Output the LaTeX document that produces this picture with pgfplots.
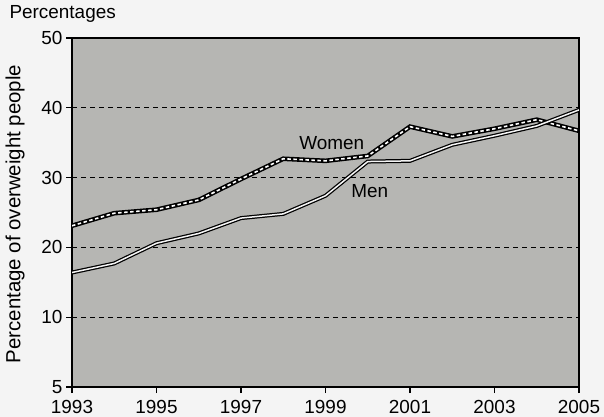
\documentclass[border=0pt]{standalone}
\usepackage{pgfplots}
\pgfplotsset{compat=1.18}
\usepackage{fontspec}
\setmainfont{Liberation Sans}

\definecolor{plotgray}{RGB}{182,182,179}
\definecolor{pagegray}{RGB}{244,244,244}

% overweight shares, percent
\pgfplotstableread{
year women men
1993 23.1 16.4
1994 24.9 17.7
1995 25.4 20.6
1996 26.8 22.0
1997 29.8 24.2
1998 32.7 24.8
1999 32.4 27.4
2000 33.1 32.3
2001 37.3 32.4
2002 35.9 34.7
2003 37.0 36.0
2004 38.3 37.4
2005 36.7 39.7
}\overweight

\newcommand{\lbl}{\fontsize{19}{22}\selectfont}

\begin{document}
\begin{tikzpicture}
\path[use as bounding box, fill=pagegray] (-72bp,-30bp) rectangle (532bp,387bp);
\begin{axis}[
  scale only axis,
  width=507bp, height=349bp,
  xmin=1993, xmax=2005,
  ymin=0, ymax=50,
  xtick={1993,1995,...,2005},
  % bottom tick is a broken scale: 5 sits one step below 10
  ytick={0,10,20,30,40,50},
  yticklabels={5,10,20,30,40,50},
  x tick label style={/pgf/number format/1000 sep={}, yshift=-4bp},
  /pgf/number format/assume math mode=true,
  tick label style={font=\lbl},
  tick pos=left,
  tick align=outside,
  major tick length=6bp,
  axis line style={line width=1.1bp},
  tick style={line width=1.1bp, black},
  axis background/.style={fill=plotgray},
  ymajorgrids,
  grid style={black, line width=0.9bp, dash pattern=on 5bp off 4bp},
]
% Women: thick black line with white dashes
\addplot[black, line width=4.6bp] table[x=year, y=women] {\overweight};
\addplot[white, line width=1.6bp, dash pattern=on 3.5bp off 2.5bp] table[x=year, y=women] {\overweight};
% Men: double line
\addplot[black, line width=4bp] table[x=year, y=men] {\overweight};
\addplot[white!92!gray, line width=1.5bp] table[x=year, y=men] {\overweight};

\node[font=\lbl] at (axis cs:1999.15,35.0) {Women};
\node[font=\lbl] at (axis cs:2000.05,28.1) {Men};
\end{axis}
\node[font=\lbl, anchor=west] at (-66bp,373bp) {Percentages};
\node[font=\fontsize{20.5}{24}\selectfont, rotate=90] at (-57bp,173bp) {Percentage of overweight people};
\end{tikzpicture}
\end{document}
